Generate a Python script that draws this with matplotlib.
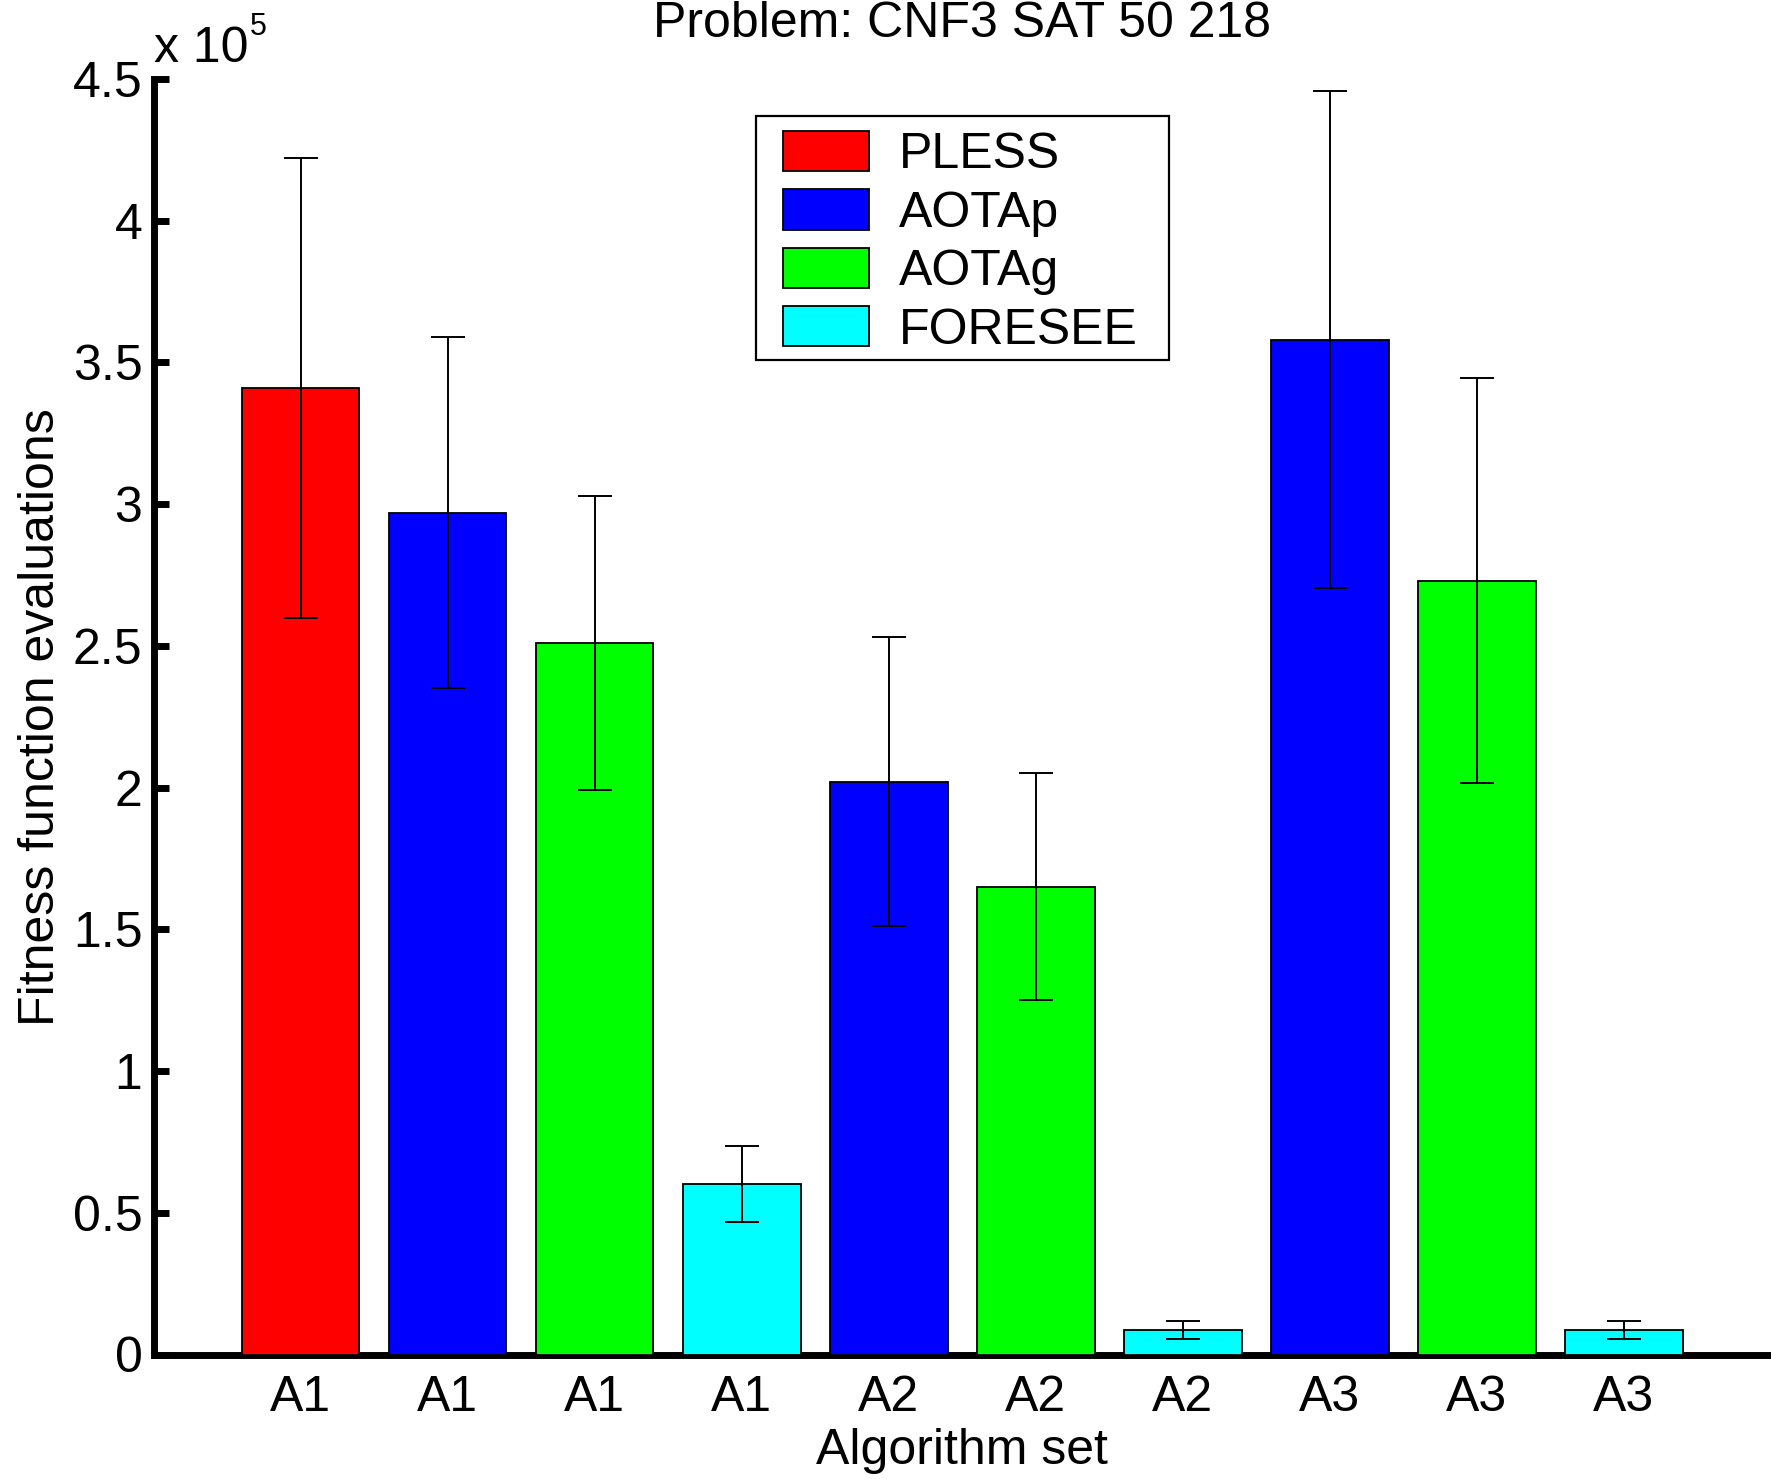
import matplotlib
matplotlib.use("Agg")
import matplotlib.pyplot as plt
from matplotlib.patches import Patch, Rectangle
from matplotlib.ticker import FuncFormatter, MultipleLocator

plt.rcParams['font.family'] = ['Liberation Sans', 'DejaVu Sans']

# ---- data ----
tick_labels = ['A1', 'A1', 'A1', 'A1', 'A2', 'A2', 'A2', 'A3', 'A3', 'A3']
bar_series = ['PLESS', 'AOTAp', 'AOTAg', 'FORESEE', 'AOTAp', 'AOTAg',
              'FORESEE', 'AOTAp', 'AOTAg', 'FORESEE']
means = [341000, 297000, 251000, 60200, 202000, 165000, 8600, 358000, 273000, 8600]
errors = [81000, 62000, 52000, 13400, 51000, 40000, 3100, 87600, 71400, 3100]
series_names = ['PLESS', 'AOTAp', 'AOTAg', 'FORESEE']
series_colors = ['#ff0000', '#0000ff', '#00ff00', '#00ffff']

title = 'Problem: CNF3 SAT 50 218'
xlabel = 'Algorithm set'
ylabel = 'Fitness function evaluations'

FS = 36
W, H = 1771, 1479
fig = plt.figure(figsize=(W / 100, H / 100), dpi=100)
ax = fig.add_axes([153.5 / W, 1 - 1354.5 / H, 1617.5 / W, (1354.5 - 79) / H])

color_map = dict(zip(series_names, series_colors))
xs = list(range(1, len(means) + 1))
ax.bar(xs, means, width=0.8, color=[color_map[s] for s in bar_series],
       edgecolor='black', linewidth=1.3, zorder=2)
ax.errorbar(xs, means, yerr=errors, fmt='none', ecolor='black',
            elinewidth=1.4, capsize=12, capthick=1.4, zorder=3)

ax.set_xlim(0, 11)
ax.set_ylim(0, 450000)
ax.set_xticks(xs)
ax.set_xticklabels(tick_labels)
ax.yaxis.set_major_locator(MultipleLocator(50000))
ax.yaxis.set_major_formatter(FuncFormatter(lambda v, p: '%g' % (v / 1e5)))

for side in ['top', 'right']:
    ax.spines[side].set_visible(False)
for side in ['left', 'bottom']:
    ax.spines[side].set_linewidth(5)
    ax.spines[side].set_zorder(1)
ax.tick_params(axis='y', direction='in', length=11, width=5, labelsize=FS, pad=8)
ax.tick_params(axis='x', length=0, labelsize=FS, pad=15)

ax.set_title(title, fontsize=FS, pad=30)
ax.set_xlabel(xlabel, fontsize=FS, labelpad=5)
ax.set_ylabel(ylabel, fontsize=FS, labelpad=6)

# exponent label
fig.text(154 / W, 1 - 62 / H, 'x 10', fontsize=FS, ha='left', va='baseline')
fig.text(250 / W, 1 - 35 / H, '5', fontsize=22, ha='left', va='baseline')

handles = [Patch(facecolor=c, edgecolor='black', linewidth=1.3) for c in series_colors]
leg = fig.legend(handles, series_names, loc='upper left',
                 bbox_to_anchor=(783 / W, 1 - 131 / H),
                 borderaxespad=0, borderpad=0, frameon=False, fontsize=FS,
                 handlelength=1.72, handleheight=0.86, handletextpad=0.6,
                 labelspacing=0.22)
leg.set_zorder(5)
fig.canvas.draw()
bb = leg.get_window_extent()
padx_l, padx_r, pad_top, pad_bot = 27, 31, 15, 6
frame = Rectangle((bb.x0 - padx_l, bb.y0 - pad_bot),
                  bb.width + padx_l + padx_r, bb.height + pad_top + pad_bot,
                  transform=None, facecolor='white', edgecolor='black',
                  linewidth=1.6, zorder=2)
fig.add_artist(frame)

fig.savefig('out.png', dpi=100)
